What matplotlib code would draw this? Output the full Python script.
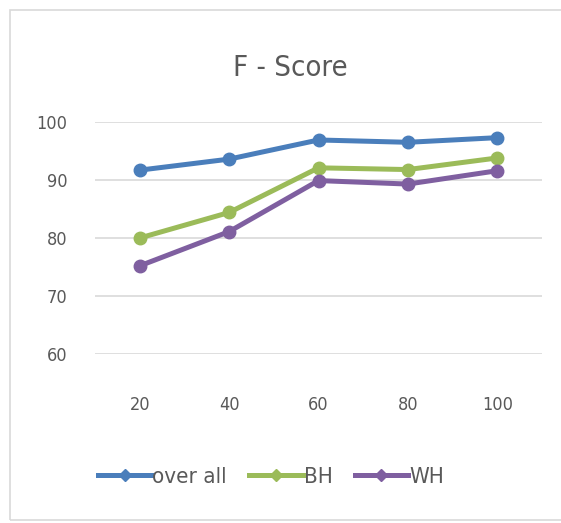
import matplotlib
matplotlib.use("Agg")
import matplotlib.pyplot as plt
from matplotlib.patches import Rectangle
from matplotlib.lines import Line2D

categories = ["20", "40", "60", "80", "100"]
overall = [91.7, 93.6, 96.9, 96.5, 97.3]
bh = [80.0, 84.4, 92.1, 91.8, 93.8]
wh = [75.2, 81.1, 89.9, 89.3, 91.6]
yticks = [60, 70, 80, 90, 100]

plt.rcParams['font.family'] = ['DejaVu Sans']
plt.rcParams['font.stretch'] = 'condensed'

fig = plt.figure(figsize=(5.61, 5.23), dpi=100)
fig.patches.append(Rectangle((10/561, 3/523), 0.999, 1 - 13/523, transform=fig.transFigure,
                             fill=False, edgecolor='#d9d9d9', linewidth=1.2))

ax = fig.add_axes([95/561, 1 - 354/523, (542 - 95)/561, (354 - 122)/523])
x = list(range(len(categories)))
txt = '#595959'
series = [(overall, '#4A7EBB', 'over all'), (bh, '#9BBB59', 'BH'), (wh, '#7F5FA0', 'WH')]
for vals, col, lab in series:
    ax.plot(x, vals, color=col, linewidth=3.6, marker='o', markersize=9, label=lab,
            solid_capstyle='round')

ax.set_xlim(-0.5, len(categories) - 0.5)
ax.set_ylim(60, 100)
ax.set_yticks(yticks)
ax.set_xticks(x)
ax.set_xticklabels(categories)
ax.grid(axis='y', color='#d9d9d9', linewidth=1.2)
ax.set_axisbelow(True)
for s in ax.spines.values():
    s.set_visible(False)
ax.tick_params(length=0, labelsize=13, colors=txt)
ax.tick_params(axis='y', pad=20)
ax.tick_params(axis='x', pad=30)

fig.text(290/561, 1 - 68/523, 'F - Score', ha='center', va='center', fontsize=21, color=txt)

handles = [Line2D([], [], color=c, linewidth=3.6, marker='D', markersize=6) for _, c, _ in series]
labels = [l for _, _, l in series]
fig.legend(handles, labels, loc='center', bbox_to_anchor=(271/561, 1 - 477/523), ncol=3,
           frameon=False, fontsize=16, handlelength=2.4, handletextpad=0.05,
           columnspacing=1.0, labelcolor=txt)

fig.savefig('out.png', dpi=100, facecolor='white')
